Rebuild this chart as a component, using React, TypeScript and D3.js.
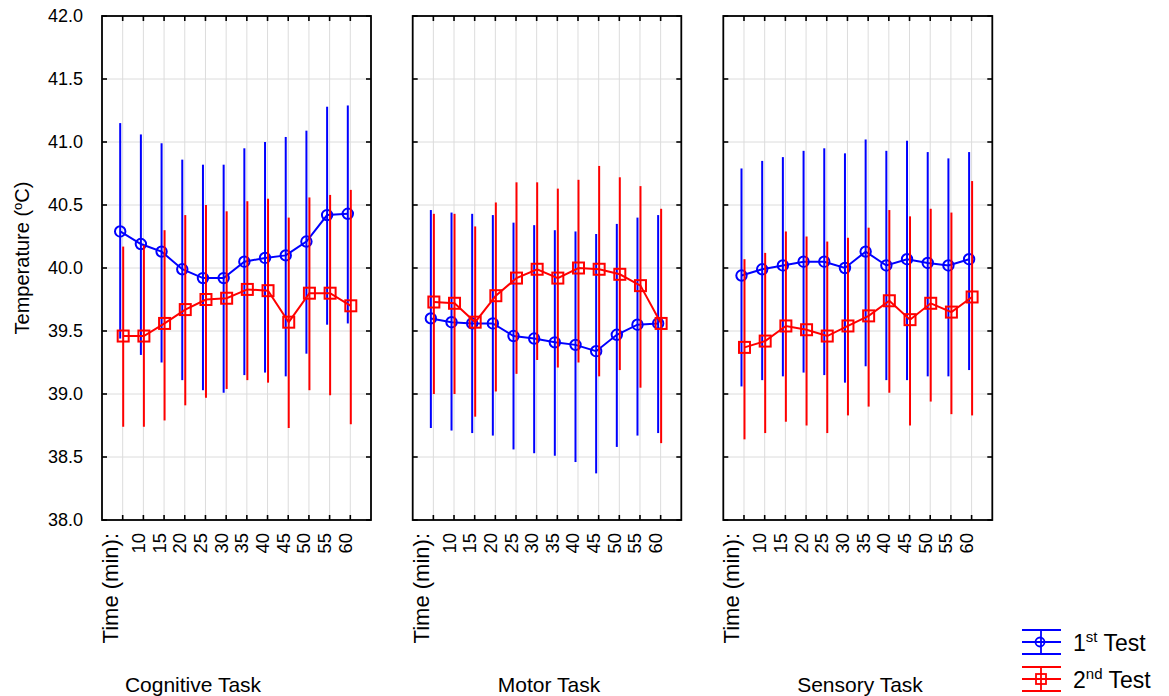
import React from "react";
import * as d3 from "d3";

const timeLabels = ["Time (min):", "10", "15", "20", "25", "30", "35", "40", "45", "50", "55", "60"];
const taskNames = ["Cognitive Task", "Motor Task", "Sensory Task"];
const yTicks = [38.0, 38.5, 39.0, 39.5, 40.0, 40.5, 41.0, 41.5, 42.0];

const cognitiveTest1Mean = [40.29, 40.19, 40.13, 39.99, 39.92, 39.92, 40.05, 40.08, 40.10, 40.21, 40.42, 40.43];
const cognitiveTest1Upper = [41.15, 41.06, 40.99, 40.86, 40.82, 40.82, 40.95, 41.00, 41.04, 41.09, 41.28, 41.29];
const cognitiveTest1Lower = [39.44, 39.31, 39.25, 39.11, 39.03, 39.01, 39.15, 39.17, 39.14, 39.32, 39.55, 39.56];
const cognitiveTest2Mean = [39.46, 39.46, 39.56, 39.67, 39.75, 39.76, 39.83, 39.82, 39.57, 39.80, 39.80, 39.70];
const cognitiveTest2Upper = [40.17, 40.18, 40.30, 40.42, 40.50, 40.45, 40.53, 40.55, 40.40, 40.56, 40.58, 40.62];
const cognitiveTest2Lower = [38.74, 38.74, 38.79, 38.91, 38.97, 39.04, 39.11, 39.09, 38.73, 39.03, 38.99, 38.76];

const motorTest1Mean = [39.60, 39.57, 39.56, 39.56, 39.46, 39.44, 39.41, 39.39, 39.34, 39.47, 39.55, 39.56];
const motorTest1Upper = [40.46, 40.44, 40.43, 40.42, 40.36, 40.34, 40.30, 40.29, 40.27, 40.35, 40.40, 40.42];
const motorTest1Lower = [38.73, 38.71, 38.69, 38.67, 38.56, 38.53, 38.51, 38.46, 38.37, 38.58, 38.67, 38.69];
const motorTest2Mean = [39.73, 39.72, 39.57, 39.78, 39.92, 39.99, 39.92, 40.00, 39.99, 39.95, 39.86, 39.56];
const motorTest2Upper = [40.43, 40.43, 40.33, 40.52, 40.68, 40.68, 40.63, 40.70, 40.81, 40.72, 40.65, 40.47];
const motorTest2Lower = [39.00, 39.00, 38.82, 39.02, 39.16, 39.27, 39.21, 39.25, 39.14, 39.19, 39.05, 38.61];

const sensoryTest1Mean = [39.94, 39.99, 40.02, 40.05, 40.05, 40.00, 40.13, 40.02, 40.07, 40.04, 40.02, 40.07];
const sensoryTest1Upper = [40.79, 40.85, 40.88, 40.93, 40.95, 40.91, 41.02, 40.93, 41.01, 40.92, 40.87, 40.92];
const sensoryTest1Lower = [39.06, 39.11, 39.14, 39.17, 39.15, 39.09, 39.22, 39.11, 39.11, 39.14, 39.14, 39.19];
const sensoryTest2Mean = [39.37, 39.42, 39.54, 39.51, 39.46, 39.54, 39.62, 39.74, 39.59, 39.72, 39.65, 39.77];
const sensoryTest2Upper = [40.07, 40.12, 40.29, 40.25, 40.21, 40.24, 40.32, 40.46, 40.41, 40.47, 40.44, 40.69];
const sensoryTest2Lower = [38.64, 38.69, 38.78, 38.75, 38.69, 38.83, 38.90, 39.01, 38.75, 38.94, 38.84, 38.83];

const taskData = [
  {
    t1: { mean: cognitiveTest1Mean, upper: cognitiveTest1Upper, lower: cognitiveTest1Lower },
    t2: { mean: cognitiveTest2Mean, upper: cognitiveTest2Upper, lower: cognitiveTest2Lower },
  },
  {
    t1: { mean: motorTest1Mean, upper: motorTest1Upper, lower: motorTest1Lower },
    t2: { mean: motorTest2Mean, upper: motorTest2Upper, lower: motorTest2Lower },
  },
  {
    t1: { mean: sensoryTest1Mean, upper: sensoryTest1Upper, lower: sensoryTest1Lower },
    t2: { mean: sensoryTest2Mean, upper: sensoryTest2Upper, lower: sensoryTest2Lower },
  },
];

const FONT = "Arial, 'Liberation Sans', sans-serif";
const BLUE = "#0000ff";
const RED = "#ff0000";
const GRID = "#dcdcdc";

const panelBounds = [
  { left: 102, right: 371 },
  { left: 412.7, right: 681.3 },
  { left: 723.3, right: 992.3 },
];
const titleX = [193, 549, 860];
const TOP = 16;
const BOTTOM = 520;

const y = d3.scaleLinear().domain([38, 42]).range([BOTTOM, TOP]);

type Series = { mean: number[]; upper: number[]; lower: number[] };

function SeriesMarks({ s, x, color, offset, kind }: { s: Series; x: d3.ScaleLinear<number, number>; color: string; offset: number; kind: "circle" | "square" }) {
  const line = d3
    .line<number>()
    .x((_, i) => x(i + 1) + offset)
    .y((d) => y(d));
  return (
    <g>
      {s.mean.map((_, i) => (
        <line
          key={"e" + i}
          x1={x(i + 1) + offset}
          x2={x(i + 1) + offset}
          y1={y(s.lower[i])}
          y2={y(s.upper[i])}
          stroke={color}
          strokeWidth={2}
        />
      ))}
      <path d={line(s.mean) || ""} fill="none" stroke={color} strokeWidth={2} />
      {s.mean.map((v, i) =>
        kind === "circle" ? (
          <circle key={"m" + i} cx={x(i + 1) + offset} cy={y(v)} r={5.2} fill="none" stroke={color} strokeWidth={2} />
        ) : (
          <rect key={"m" + i} x={x(i + 1) + offset - 5.5} y={y(v) - 5.5} width={11} height={11} fill="none" stroke={color} strokeWidth={2} />
        )
      )}
    </g>
  );
}

function Panel({ idx }: { idx: number }) {
  const { left, right } = panelBounds[idx];
  const x = d3.scaleLinear().domain([0, 13]).range([left, right]);
  const cats = d3.range(1, 13);
  const data = taskData[idx];
  return (
    <g>
      {yTicks.map((t) => (
        <line key={"gy" + t} x1={left} x2={right} y1={y(t)} y2={y(t)} stroke={GRID} strokeWidth={1} />
      ))}
      {cats.map((c) => (
        <line key={"gx" + c} x1={x(c)} x2={x(c)} y1={TOP} y2={BOTTOM} stroke={GRID} strokeWidth={1} />
      ))}
      <SeriesMarks s={data.t1} x={x} color={BLUE} offset={-2.5} kind="circle" />
      <SeriesMarks s={data.t2} x={x} color={RED} offset={0.5} kind="square" />
      <rect x={left} y={TOP} width={right - left} height={BOTTOM - TOP} fill="none" stroke="#000" strokeWidth={1.8} />
      {yTicks.map((t) => (
        <g key={"ty" + t}>
          <line x1={left} x2={left + 5} y1={y(t)} y2={y(t)} stroke="#000" strokeWidth={1.6} />
          <line x1={right} x2={right - 5} y1={y(t)} y2={y(t)} stroke="#000" strokeWidth={1.6} />
        </g>
      ))}
      {cats.map((c) => (
        <g key={"tx" + c}>
          <line x1={x(c)} x2={x(c)} y1={BOTTOM} y2={BOTTOM - 5} stroke="#000" strokeWidth={1.6} />
          <line x1={x(c)} x2={x(c)} y1={TOP} y2={TOP + 5} stroke="#000" strokeWidth={1.6} />
        </g>
      ))}
      {timeLabels.map((lab, i) => {
        const first = i === 0;
        const bx = first ? x(i + 1) - 4.5 : x(i + 1) + 1.5;
        return (
          <text
            key={"xl" + i}
            transform={`translate(${bx},${533}) rotate(-90)`}
            textAnchor="end"
            fontSize={first ? 22 : 18.5}
            fontFamily={FONT}
            fill="#000"
          >
            {lab}
          </text>
        );
      })}
      {idx === 0 &&
        yTicks.map((t) => (
          <text key={"yl" + t} x={83} y={y(t)} dy="0.35em" textAnchor="end" fontSize={18} fontFamily={FONT} fill="#000">
            {t.toFixed(1)}
          </text>
        ))}
      <text x={titleX[idx]} y={692} textAnchor="middle" fontSize={21} fontFamily={FONT} fill="#000">
        {taskNames[idx]}
      </text>
    </g>
  );
}

function Legend() {
  const entries = [
    { color: BLUE, kind: "circle", cy: 642, label: "1", sup: "st", ty: 651 },
    { color: RED, kind: "square", cy: 679, label: "2", sup: "nd", ty: 688 },
  ];
  const x1 = 1022;
  const x2 = 1061;
  const cx = 1041;
  return (
    <g>
      {entries.map((e) => (
        <g key={e.label}>
          <line x1={x1} x2={x2} y1={e.cy - 12} y2={e.cy - 12} stroke={e.color} strokeWidth={1.8} />
          <line x1={x1} x2={x2} y1={e.cy} y2={e.cy} stroke={e.color} strokeWidth={1.8} />
          <line x1={x1} x2={x2} y1={e.cy + 12} y2={e.cy + 12} stroke={e.color} strokeWidth={1.8} />
          <line x1={cx} x2={cx} y1={e.cy - 12} y2={e.cy + 12} stroke={e.color} strokeWidth={1.8} />
          {e.kind === "circle" ? (
            <circle cx={cx - 1} cy={e.cy} r={4.5} fill="none" stroke={e.color} strokeWidth={1.8} />
          ) : (
            <rect x={cx - 5} y={e.cy - 5} width={10} height={10} fill="none" stroke={e.color} strokeWidth={1.8} />
          )}
          <text x={1073} y={e.ty} fontSize={23} fontFamily={FONT} fill="#000">
            {e.label}
            <tspan fontSize={15} dy={-9}>{e.sup}</tspan>
            <tspan dy={9}> Test</tspan>
          </text>
        </g>
      ))}
    </g>
  );
}

export default function App() {
  return (
    <svg
      width={1169}
      height={696}
      viewBox="0 0 1169 696"
      style={{ position: "absolute", left: 0, top: 0, display: "block", background: "#fff" }}
    >
      <rect x={0} y={0} width={1169} height={696} fill="#fff" />
      {[0, 1, 2].map((i) => (
        <Panel key={i} idx={i} />
      ))}
      <text transform="translate(29,258) rotate(-90)" textAnchor="middle" fontSize={20} fontFamily={FONT} fill="#000">
        Temperature (
        <tspan fontSize={13} dy={-7}>o</tspan>
        <tspan dy={7}>C)</tspan>
      </text>
      <Legend />
    </svg>
  );
}
